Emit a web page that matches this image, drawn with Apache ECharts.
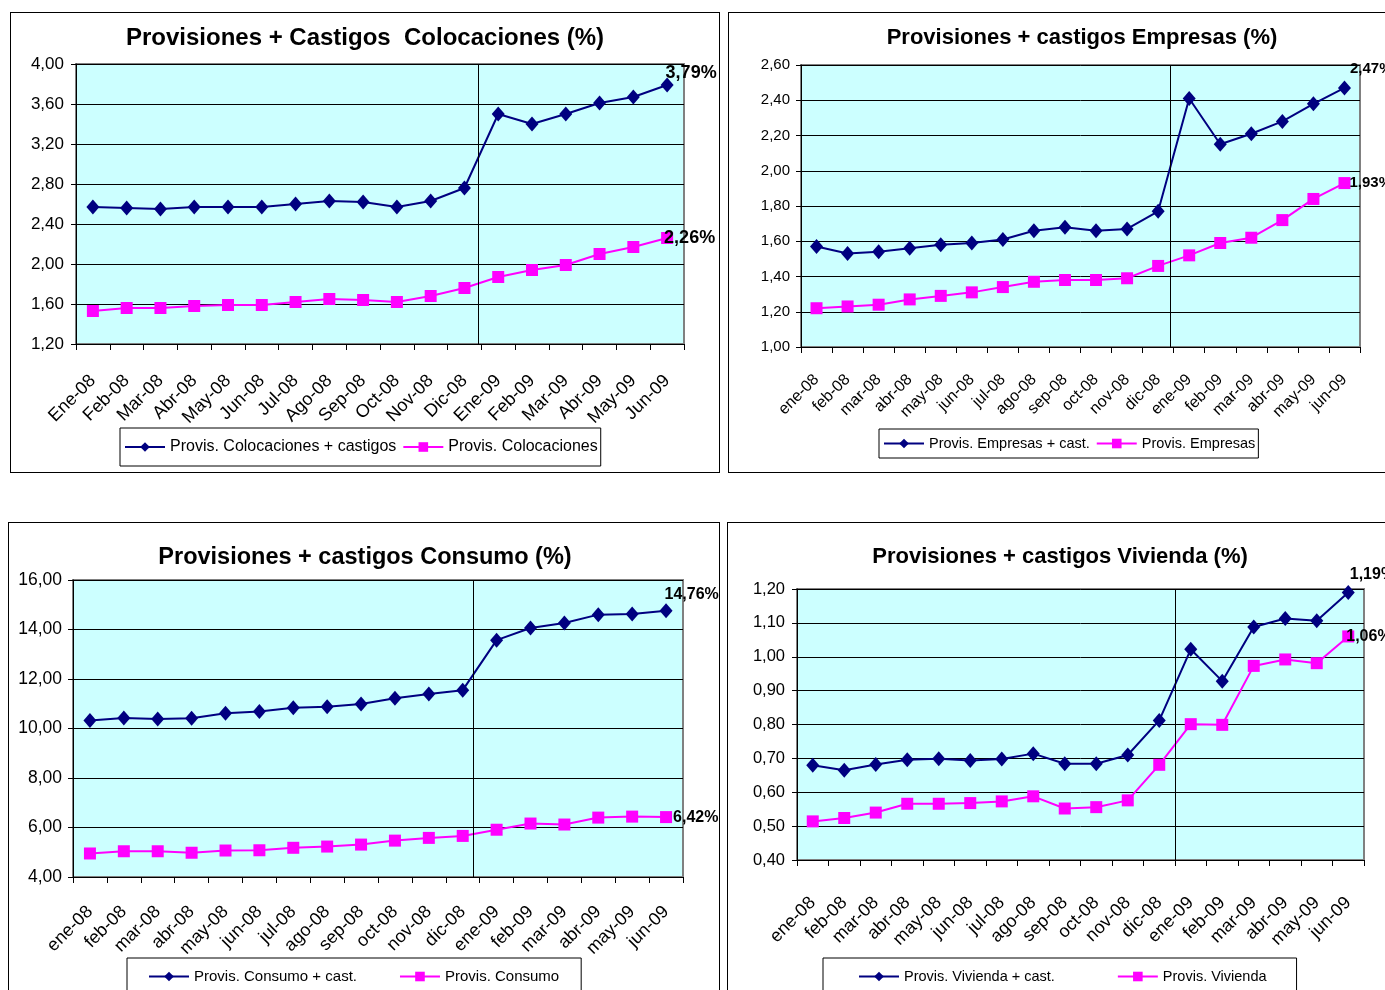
<!DOCTYPE html>
<html>
<head>
<meta charset="utf-8">
<script src="https://cdn.jsdelivr.net/npm/echarts@6/dist/echarts.min.js"></script>
<style>
  html, body { margin: 0; padding: 0; background: #fff; overflow: hidden; }
  body { width: 1385px; height: 990px; position: relative; }
  .panel { position: absolute; box-sizing: border-box; border: 1px solid #000; background: #fff; }
  .chart { position: absolute; left: 0; top: 0; width: 100%; height: 100%; }
</style>
</head>
<body>
<div class="panel" style="left:10px;top:12px;width:710px;height:461px"><div id="c1" class="chart"></div></div>
<div class="panel" style="left:728px;top:12px;width:700px;height:461px"><div id="c2" class="chart"></div></div>
<div class="panel" style="left:8px;top:522px;width:712px;height:500px"><div id="c3" class="chart"></div></div>
<div class="panel" style="left:727px;top:522px;width:700px;height:500px"><div id="c4" class="chart"></div></div>
<script>
// meses
var mesesMay = ['Ene-08', 'Feb-08', 'Mar-08', 'Abr-08', 'May-08', 'Jun-08', 'Jul-08', 'Ago-08', 'Sep-08', 'Oct-08', 'Nov-08', 'Dic-08', 'Ene-09', 'Feb-09', 'Mar-09', 'Abr-09', 'May-09', 'Jun-09'];
var mesesMin = ['ene-08', 'feb-08', 'mar-08', 'abr-08', 'may-08', 'jun-08', 'jul-08', 'ago-08', 'sep-08', 'oct-08', 'nov-08', 'dic-08', 'ene-09', 'feb-09', 'mar-09', 'abr-09', 'may-09', 'jun-09'];

// Colocaciones
var colocCast = [2.57, 2.56, 2.55, 2.57, 2.57, 2.57, 2.60, 2.63, 2.62, 2.57, 2.63, 2.76, 3.50, 3.40, 3.50, 3.61, 3.67, 3.79];
var colocProv = [1.53, 1.56, 1.56, 1.58, 1.59, 1.59, 1.62, 1.65, 1.64, 1.62, 1.68, 1.76, 1.87, 1.94, 1.99, 2.10, 2.17, 2.26];
// Empresas
var empCast = [1.57, 1.53, 1.54, 1.56, 1.58, 1.59, 1.61, 1.66, 1.68, 1.66, 1.67, 1.77, 2.41, 2.15, 2.21, 2.28, 2.38, 2.47];
var empProv = [1.22, 1.23, 1.24, 1.27, 1.29, 1.31, 1.34, 1.37, 1.38, 1.38, 1.39, 1.46, 1.52, 1.59, 1.62, 1.72, 1.84, 1.93];
// Consumo
var consCast = [10.32, 10.42, 10.38, 10.41, 10.62, 10.69, 10.84, 10.88, 10.99, 11.22, 11.39, 11.55, 13.57, 14.06, 14.26, 14.60, 14.63, 14.76];
var consProv = [4.95, 5.04, 5.04, 4.98, 5.07, 5.08, 5.18, 5.23, 5.31, 5.47, 5.58, 5.66, 5.91, 6.16, 6.12, 6.40, 6.44, 6.42];
// Vivienda
var vivCast = [0.68, 0.665, 0.682, 0.696, 0.699, 0.694, 0.698, 0.714, 0.684, 0.684, 0.71, 0.812, 1.022, 0.928, 1.088, 1.113, 1.106, 1.19];
var vivProv = [0.514, 0.524, 0.54, 0.566, 0.566, 0.568, 0.573, 0.588, 0.552, 0.556, 0.576, 0.681, 0.801, 0.799, 0.973, 0.992, 0.981, 1.06];

var FONT = '"Liberation Sans", Arial, sans-serif';
var AZUL = '#000080';
var ROSA = '#FF00FF';

function coma(v) {
  return v.toFixed(2).replace('.', ',');
}

// ultimo punto con etiqueta
function conEtiqueta(arr, offset, fs) {
  return arr.map(function (v, i) {
    if (i !== arr.length - 1) return v;
    return {
      value: v,
      label: {
        show: true,
        position: 'right',
        offset: offset,
        formatter: function (p) { return coma(p.value) + '%'; },
        color: '#000',
        fontWeight: 'bold',
        fontFamily: FONT,
        fontSize: fs
      }
    };
  });
}

function dibujar(id, cfg) {
  var chart = echarts.init(document.getElementById(id), null, { renderer: 'canvas' });
  chart.setOption({
    animation: false,
    textStyle: { fontFamily: FONT },
    title: {
      text: cfg.titulo,
      left: cfg.tituloX,
      textAlign: 'center',
      top: cfg.tituloY,
      textStyle: { fontFamily: FONT, fontSize: cfg.tituloFs, fontWeight: 'bold', color: '#000' }
    },
    legend: {
      left: cfg.legX,
      top: cfg.legY,
      orient: 'horizontal',
      itemGap: cfg.legGap,
      itemWidth: 40,
      itemHeight: 12,
      padding: cfg.legPad,
      borderColor: '#000',
      borderWidth: 1,
      backgroundColor: '#fff',
      textStyle: { fontFamily: FONT, fontSize: cfg.legFs, color: '#000' },
      data: [cfg.nombres[0], cfg.nombres[1]]
    },
    grid: {
      left: cfg.grid[0], top: cfg.grid[1], width: cfg.grid[2], height: cfg.grid[3],
      show: true,
      backgroundColor: '#CCFFFF',
      borderColor: '#808080',
      borderWidth: 2
    },
    xAxis: [{
      type: 'category',
      data: cfg.meses,
      boundaryGap: true,
      axisLine: { lineStyle: { color: '#000', width: 1 } },
      axisTick: { show: true, length: 6, lineStyle: { color: '#000' } },
      axisLabel: { rotate: 45, interval: 0, fontSize: cfg.xFs, color: '#000', fontFamily: FONT, margin: cfg.xMargin },
      splitLine: { show: false }
    }, {
      type: 'value',
      min: 0,
      max: 18,
      show: false
    }],
    yAxis: {
      type: 'value',
      min: cfg.yMin,
      max: cfg.yMax,
      interval: cfg.yInt,
      axisLine: { show: true, lineStyle: { color: '#000', width: 1 } },
      axisTick: { show: true, length: 5, lineStyle: { color: '#000' } },
      axisLabel: { fontSize: cfg.yFs, color: '#000', fontFamily: FONT, margin: cfg.yMargin, formatter: coma },
      splitLine: { show: true, lineStyle: { color: '#000', width: 1 } }
    },
    series: [{
      name: cfg.nombres[0],
      type: 'line',
      data: conEtiqueta(cfg.cast, cfg.offCast, cfg.etFs),
      symbol: 'diamond',
      symbolSize: [13, 15],
      lineStyle: { color: AZUL, width: 2 },
      itemStyle: { color: AZUL },
      z: 3
    }, {
      name: cfg.nombres[1],
      type: 'line',
      data: conEtiqueta(cfg.prov, cfg.offProv, cfg.etFs),
      symbol: 'rect',
      symbolSize: 12,
      lineStyle: { color: ROSA, width: 2 },
      itemStyle: { color: ROSA },
      z: 2
    }, {
      // linea vertical de corte 2008 / 2009
      type: 'scatter',
      xAxisIndex: 1,
      data: [],
      silent: true,
      markLine: {
        symbol: 'none',
        silent: true,
        label: { show: false },
        lineStyle: { color: '#000', width: 1, type: 'solid' },
        data: [{ xAxis: cfg.corte }]
      },
      z: 1
    }]
  });
}

dibujar('c1', {
  titulo: 'Provisiones + Castigos  Colocaciones (%)',
  tituloX: 349, tituloY: 8, tituloFs: 24,
  meses: mesesMay, cast: colocCast, prov: colocProv,
  nombres: ['Provis. Colocaciones + castigos', 'Provis. Colocaciones'],
  grid: [65, 51, 608, 280],
  yMin: 1.2, yMax: 4.0, yInt: 0.4, yFs: 17, yMargin: 12, xFs: 18, xMargin: 34,
  legX: 109, legY: 415, legGap: 6, legPad: [11, 3, 11, 4], legFs: 16,
  offCast: [-13, -12], offProv: [-14, 0], etFs: 18,
  corte: 11.9
});

dibujar('c2', {
  titulo: 'Provisiones + castigos Empresas (%)',
  tituloX: 348, tituloY: 9, tituloFs: 22,
  meses: mesesMin, cast: empCast, prov: empProv,
  nombres: ['Provis. Empresas + cast.', 'Provis. Empresas'],
  grid: [72, 52, 559, 282],
  yMin: 1.0, yMax: 2.6, yInt: 0.2, yFs: 15, yMargin: 11, xFs: 16, xMargin: 30,
  legX: 150, legY: 416, legGap: 6, legPad: [7, 3, 7, 4], legFs: 14.5,
  offCast: [-6, -19], offProv: [-6, 0], etFs: 15,
  corte: 11.9
});

dibujar('c3', {
  titulo: 'Provisiones + castigos Consumo (%)',
  tituloX: 351, tituloY: 18, tituloFs: 23.5,
  meses: mesesMin, cast: consCast, prov: consProv,
  nombres: ['Provis. Consumo + cast.', 'Provis. Consumo'],
  grid: [64, 57, 610, 297],
  yMin: 4, yMax: 16, yInt: 2, yFs: 17.5, yMargin: 11, xFs: 18, xMargin: 32,
  legX: 118, legY: 435, legGap: 42, legPad: [11, 22, 11, 21], legFs: 15,
  offCast: [-13, -16], offProv: [-4, 0], etFs: 16,
  corte: 11.8
});

dibujar('c4', {
  titulo: 'Provisiones + castigos Vivienda (%)',
  tituloX: 327, tituloY: 18, tituloFs: 22,
  meses: mesesMin, cast: vivCast, prov: vivProv,
  nombres: ['Provis. Vivienda + cast.', 'Provis. Vivienda'],
  grid: [69, 66, 567, 271],
  yMin: 0.4, yMax: 1.2, yInt: 0.1, yFs: 16.5, yMargin: 12, xFs: 18, xMargin: 40,
  legX: 95, legY: 435, legGap: 62, legPad: [11, 30, 11, 35], legFs: 14.5,
  offCast: [-10, -18], offProv: [-13, 0], etFs: 16,
  corte: 12
});
</script>
</body>
</html>
